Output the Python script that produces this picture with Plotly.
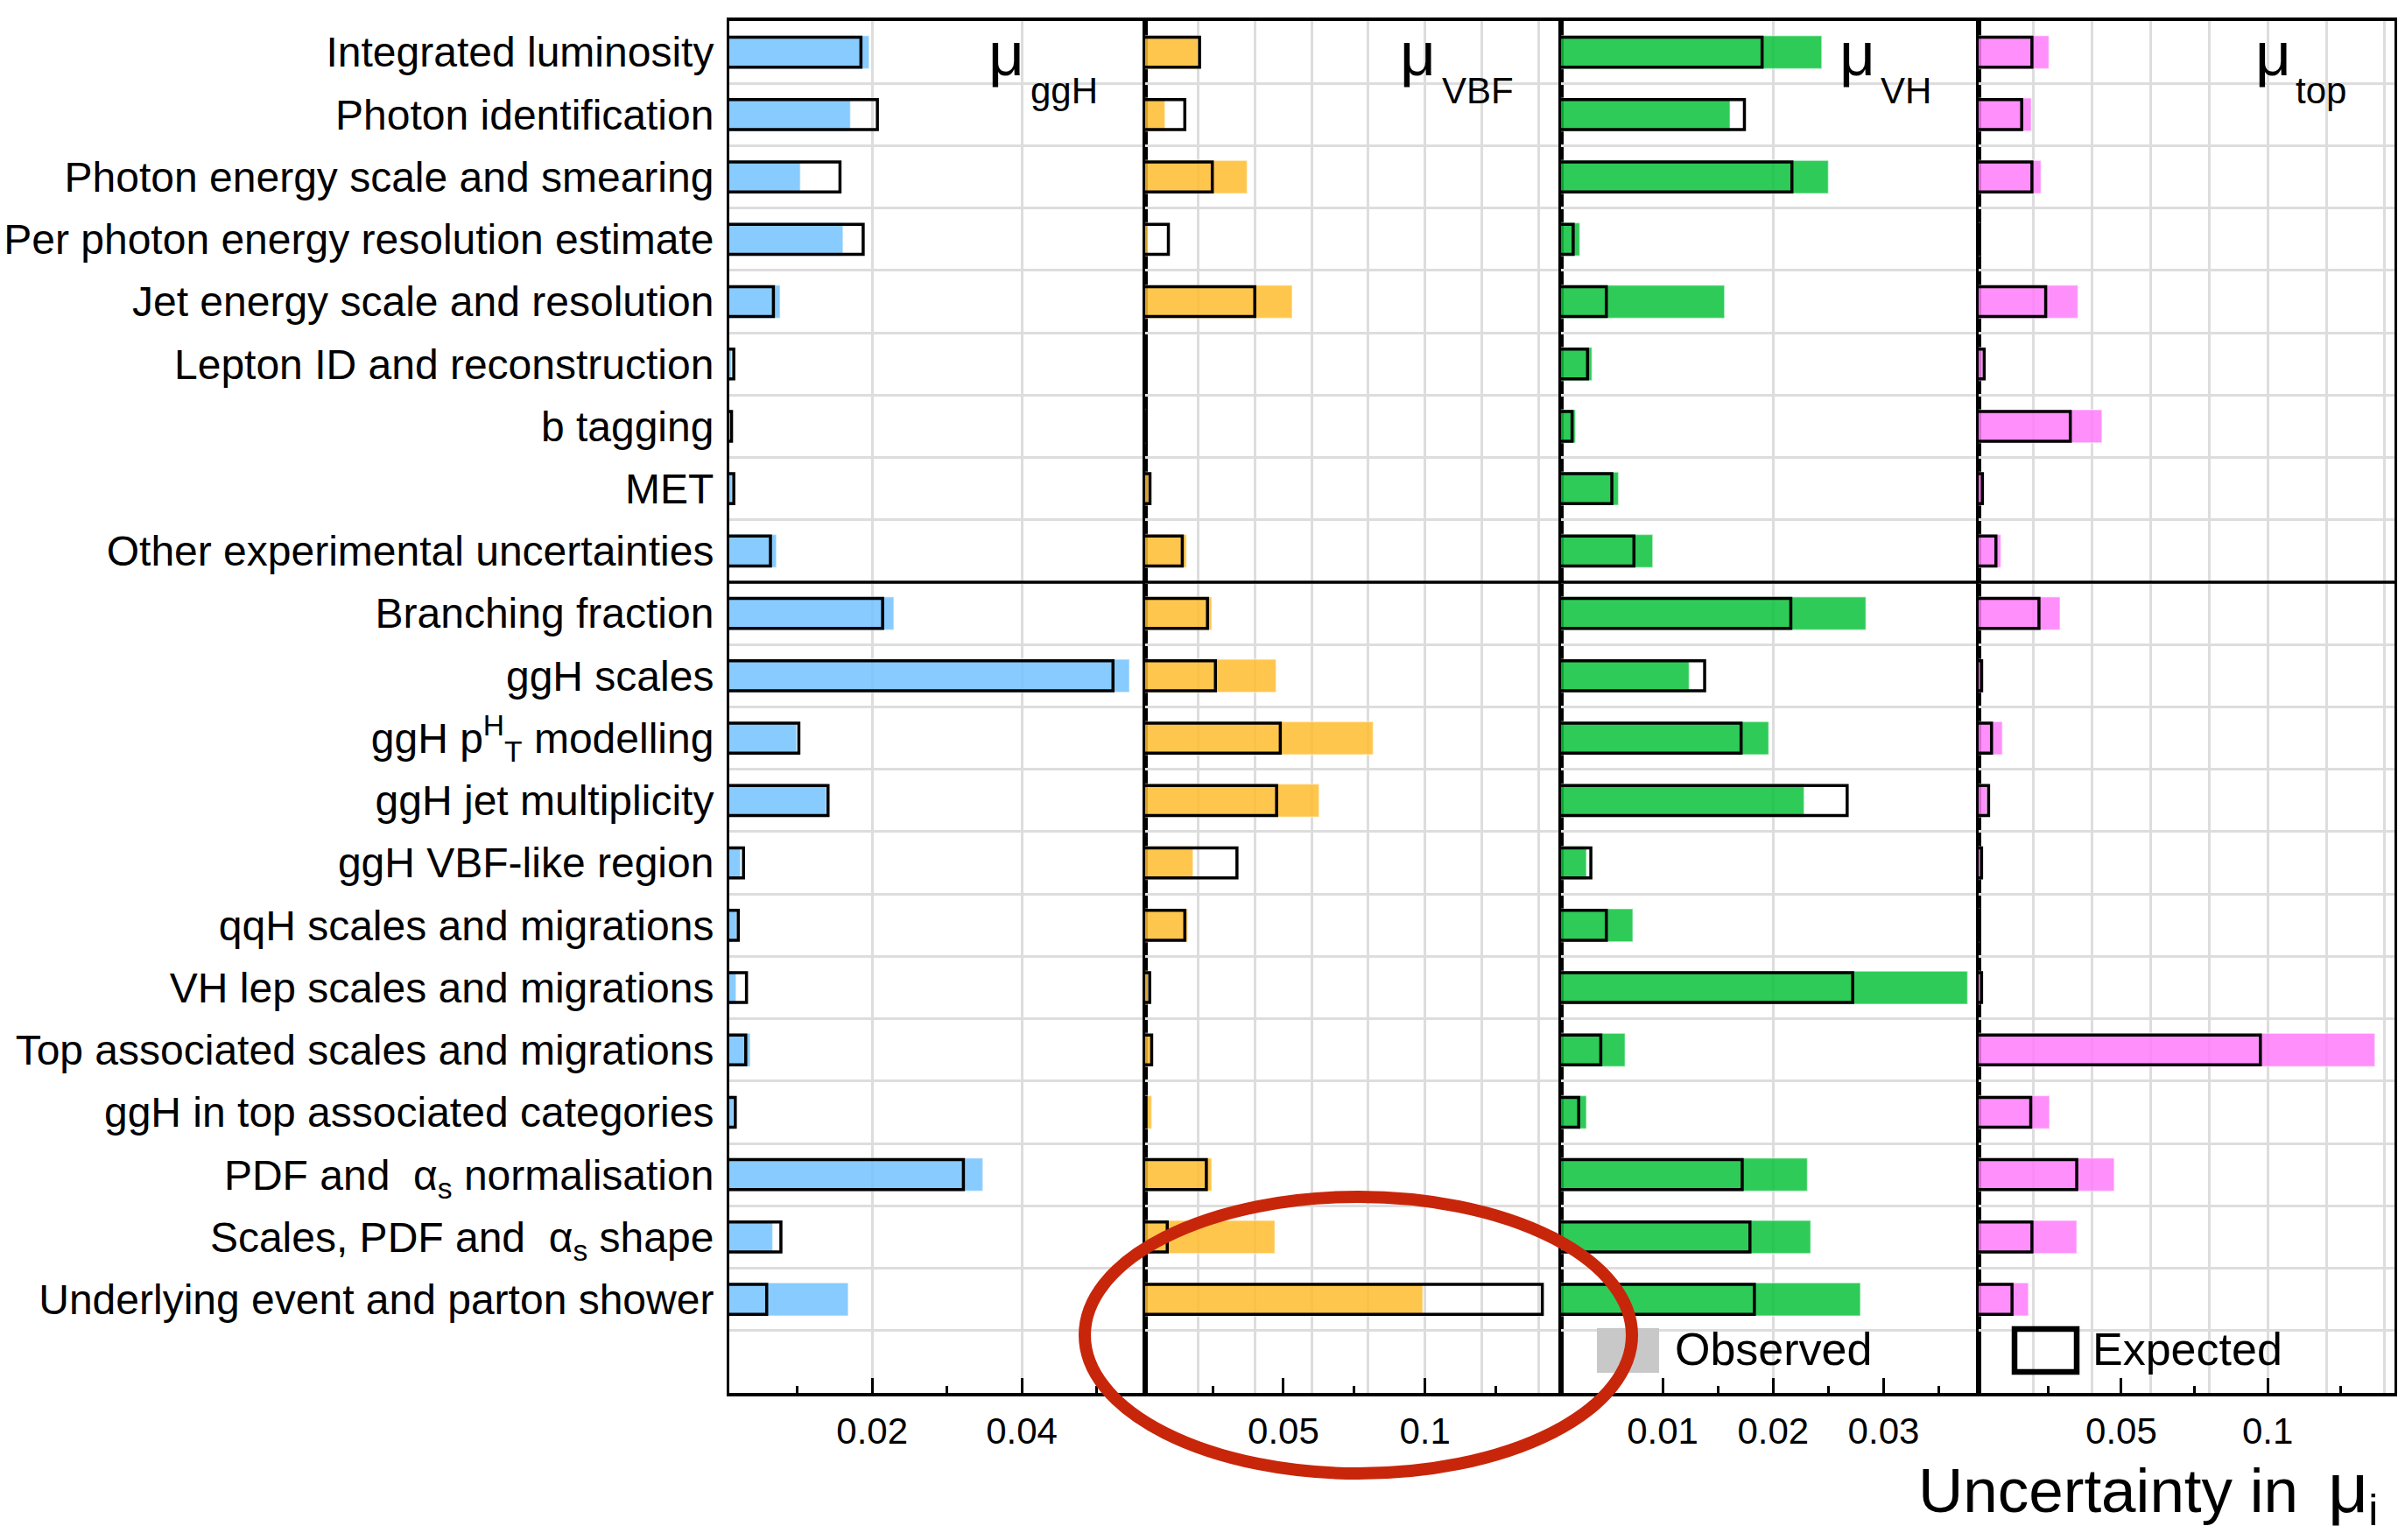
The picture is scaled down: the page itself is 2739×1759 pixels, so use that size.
import plotly.graph_objects as go

W, H = 2739, 1759
FONT = "Liberation Sans, Arial, Helvetica, sans-serif"

# Nuisance-parameter groups, top to bottom
labels = [
    "Integrated luminosity",
    "Photon identification",
    "Photon energy scale and smearing",
    "Per photon energy resolution estimate",
    "Jet energy scale and resolution",
    "Lepton ID and reconstruction",
    "b tagging",
    "MET",
    "Other experimental uncertainties",
    "Branching fraction",
    "ggH scales",
    "ggH p<sup>H</sup><sub>T</sub> modelling",
    "ggH jet multiplicity",
    "ggH VBF-like region",
    "qqH scales and migrations",
    "VH lep scales and migrations",
    "Top associated scales and migrations",
    "ggH in top associated categories",
    "PDF and \u00a0\u03b1<sub>s</sub> normalisation",
    "Scales, PDF and \u00a0\u03b1<sub>s</sub> shape",
    "Underlying event and parton shower",
]

# Observed / expected impact on each signal strength
ggh_obs = [0.0196, 0.0171, 0.0104, 0.0161, 0.0077, 0.0012, 0.0010, 0.0013, 0.0072,
           0.0229, 0.0544, 0.0099, 0.0139, 0.0024, 0.0019, 0.0018, 0.0037, 0.0015,
           0.0348, 0.0067, 0.0168]
ggh_exp = [0.0185, 0.0207, 0.0157, 0.0188, 0.0068, 0.0015, 0.0012, 0.0015, 0.0064,
           0.0214, 0.0522, 0.0102, 0.0141, 0.0028, 0.0021, 0.0032, 0.0031, 0.0017,
           0.0322, 0.0078, 0.0059]

vbf_obs = [0.0198, 0.0082, 0.0372, 0.0022, 0.0531, 0.0005, 0.0012, 0.0025, 0.0158,
           0.0247, 0.0474, 0.0817, 0.0626, 0.0181, 0.0162, 0.0020, 0.0039, 0.0035,
           0.0247, 0.0470, 0.0992]
vbf_exp = [0.0204, 0.0152, 0.0249, 0.0094, 0.0399, 0.0005, 0.0015, 0.0029, 0.0143,
           0.0232, 0.0260, 0.0489, 0.0476, 0.0336, 0.0152, 0.0028, 0.0035, 0.0015,
           0.0228, 0.0090, 0.1414]

vh_obs = [0.0244, 0.0161, 0.0250, 0.0025, 0.0156, 0.0036, 0.0021, 0.0060, 0.0091,
          0.0284, 0.0124, 0.0196, 0.0228, 0.0031, 0.0073, 0.0376, 0.0066, 0.0031,
          0.0231, 0.0234, 0.0279]
vh_exp = [0.0190, 0.0174, 0.0217, 0.0019, 0.0049, 0.0032, 0.0018, 0.0054, 0.0074,
          0.0216, 0.0138, 0.0171, 0.0267, 0.0035, 0.0049, 0.0272, 0.0044, 0.0024,
          0.0172, 0.0179, 0.0183]

top_obs = [0.0253, 0.0193, 0.0226, 0.0018, 0.0352, 0.0028, 0.0434, 0.0024, 0.0089,
           0.0291, 0.0030, 0.0094, 0.0041, 0.0018, 0.0015, 0.0018, 0.1366, 0.0255,
           0.0476, 0.0348, 0.0183]
top_exp = [0.0195, 0.0160, 0.0195, 0.0015, 0.0242, 0.0032, 0.0326, 0.0026, 0.0072,
           0.0219, 0.0023, 0.0057, 0.0047, 0.0023, 0.0015, 0.0023, 0.0975, 0.0191,
           0.0348, 0.0195, 0.0127]

poi_names = ["ggH", "VBF", "VH", "top"]
fill_colors = ["rgba(115,194,255,0.85)", "rgba(255,188,46,0.85)",
               "rgba(10,194,60,0.85)", "rgba(255,123,249,0.85)"]
observed = [ggh_obs, vbf_obs, vh_obs, top_obs]
expected = [ggh_exp, vbf_exp, vh_exp, top_exp]

# Axis settings per panel
x_ranges = [[0.0009, 0.0565], [0.0012, 0.148], [0.0008, 0.0386], [0.0013, 0.1433]]
grid_vals = [[0.02, 0.04],
             [0.02, 0.04, 0.06, 0.08, 0.10, 0.12, 0.14],
             [0.02],
             [0.02, 0.04, 0.06, 0.08, 0.10, 0.12, 0.14]]
tick_vals = [[0.02, 0.04], [0.05, 0.1], [0.01, 0.02, 0.03], [0.05, 0.1]]
tick_text = [["0.02", "0.04"], ["0.05", "0.1"], ["0.01", "0.02", "0.03"], ["0.05", "0.1"]]
minor_vals = [[0.01, 0.03, 0.05], [0.025, 0.075, 0.125],
              [0.005, 0.015, 0.025, 0.035], [0.025, 0.075, 0.125]]

# panel edges in pixels
edges = [833, 1308, 1783, 2260, 2735]
y_top_px, y_bot_px = 24, 1591
y_domain = [1 - y_bot_px / H, 1 - y_top_px / H]

rows = list(range(len(labels)))

fig = go.Figure()
layout_axes = {}
for k in range(4):
    ax_id = "x" if k == 0 else f"x{k + 1}"
    ov_id = f"x{k + 5}"
    dom = [edges[k] / W, edges[k + 1] / W]

    fig.add_trace(go.Bar(
        orientation="h", y=rows, x=observed[k], xaxis=ax_id, yaxis="y",
        width=0.53, marker=dict(color=fill_colors[k],
                                line=dict(color="rgba(255,255,255,0.45)", width=1.5)),
        showlegend=False, hoverinfo="x+y"))
    fig.add_trace(go.Bar(
        orientation="h", y=rows, x=expected[k], xaxis=ax_id, yaxis="y",
        width=0.48, marker=dict(color="rgba(0,0,0,0)", line=dict(color="black", width=3.5)),
        showlegend=False, hoverinfo="x+y"))
    # empty trace so the tick-carrying overlay axis is always drawn
    fig.add_trace(go.Scatter(x=[], y=[], xaxis=ov_id, yaxis="y", showlegend=False))

    layout_axes["xaxis" if k == 0 else f"xaxis{k + 1}"] = dict(
        domain=dom, range=x_ranges[k], anchor="y",
        tickmode="array", tickvals=grid_vals[k], showticklabels=False, ticks="",
        showgrid=True, gridcolor="#dddddd", gridwidth=3,
        zeroline=False, showline=False, fixedrange=True)
    layout_axes[f"xaxis{k + 5}"] = dict(
        range=x_ranges[k], anchor="y", overlaying=ax_id,
        tickmode="array", tickvals=tick_vals[k], ticktext=tick_text[k],
        ticks="inside", ticklen=17, tickwidth=3, tickcolor="black",
        minor=dict(tickmode="array", tickvals=minor_vals[k], ticks="inside",
                   ticklen=8, tickwidth=3, tickcolor="black", showgrid=False),
        showgrid=False, zeroline=False,
        showline=True, linecolor="black", linewidth=4, mirror=True,
        ticklabelstandoff=4,
        tickfont=dict(family=FONT, size=42, color="black"), fixedrange=True)

fig.update_layout(**layout_axes)
fig.update_layout(
    width=W, height=H, autosize=False,
    margin=dict(l=0, r=0, t=0, b=0, pad=0),
    paper_bgcolor="white", plot_bgcolor="white",
    barmode="overlay",
    font=dict(family=FONT, color="black"),
    yaxis=dict(
        domain=y_domain, range=[21.5, -0.5], anchor="x",
        tickmode="array", tickvals=rows, ticktext=labels, ticks="",
        showgrid=False,
        minor=dict(tickmode="array", tickvals=[r + 0.5 for r in rows],
                   showgrid=True, gridcolor="#dddddd", gridwidth=3, ticks=""),
        showline=True, linecolor="black", linewidth=3, mirror="all",
        zeroline=False, ticklabelstandoff=5,
        tickfont=dict(family=FONT, size=48, color="black"),
        fixedrange=True),
)

shapes = []
# separator between experimental and theory groups
shapes.append(dict(type="line", xref="paper", yref="y",
                   x0=edges[0] / W, x1=edges[-1] / W, y0=8.5, y1=8.5,
                   line=dict(color="black", width=3.5)))
# legend glyphs
shapes.append(dict(type="rect", xref="paper", yref="paper",
                   x0=1824 / W, x1=1895 / W, y0=1 - 1568 / H, y1=1 - 1517 / H,
                   fillcolor="#c8c8c8", line=dict(width=0)))
shapes.append(dict(type="rect", xref="paper", yref="paper",
                   x0=2301 / W, x1=2372 / W, y0=1 - 1567 / H, y1=1 - 1518 / H,
                   fillcolor="rgba(0,0,0,0)", line=dict(color="black", width=6.5)))
# highlight around the VBF parton-shower entry
shapes.append(dict(type="circle", xref="paper", yref="paper",
                   x0=1239 / W, x1=1864 / W, y0=1 - 1683 / H, y1=1 - 1367 / H,
                   line=dict(color="#C8260A", width=14)))
fig.update_layout(shapes=shapes)

annotations = []
mu_right = [1172, 1642, 2144, 2619]
sub_left = [1175, 1645, 2146, 2620]
for k, name in enumerate(poi_names):
    annotations.append(dict(text="\u03bc", xref="paper", yref="paper",
                            x=mu_right[k] / W, y=1 - 61 / H,
                            xanchor="right", yanchor="middle", showarrow=False,
                            font=dict(family=FONT, size=71, color="black")))
    annotations.append(dict(text=name, xref="paper", yref="paper",
                            x=sub_left[k] / W, y=1 - 104 / H,
                            xanchor="left", yanchor="middle", showarrow=False,
                            font=dict(family=FONT, size=42, color="black")))

annotations.append(dict(text="Observed", xref="paper", yref="paper",
                        x=1911 / W, y=1 - 1541 / H, xanchor="left", yanchor="middle",
                        showarrow=False, font=dict(family=FONT, size=52, color="black")))
annotations.append(dict(text="Expected", xref="paper", yref="paper",
                        x=2388 / W, y=1 - 1541 / H, xanchor="left", yanchor="middle",
                        showarrow=False, font=dict(family=FONT, size=52, color="black")))
annotations.append(dict(
    text="Uncertainty in\u00a0\u2009<span style='font-size:80px'>\u03bc</span><sub>i</sub>",
    xref="paper", yref="paper",
    x=2189 / W, y=1 - 1704 / H, xanchor="left", yanchor="middle",
    showarrow=False, font=dict(family=FONT, size=71, color="black")))
fig.update_layout(annotations=annotations)

fig.write_html("out.html")
